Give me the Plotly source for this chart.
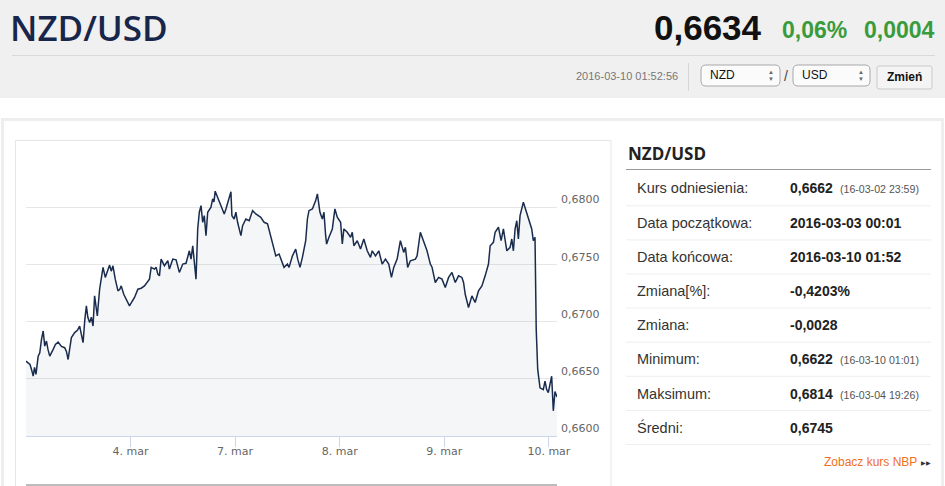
import plotly.graph_objects as go
import pandas as pd

W, H = 945, 486

# ---------------- data ----------------
TRADING_DAYS = ["2016-03-03", "2016-03-04", "2016-03-07", "2016-03-08", "2016-03-09", "2016-03-10"]
# trading hours elapsed since 2016-03-03 00:00 (weekend removed)
HOURS = [
    0.02, 0.94, 1.28, 1.67, 1.97, 2.31, 2.81, 3.18, 3.57, 3.96,
    4.32, 4.71, 5.06, 5.47, 6.25, 6.77, 7.39, 8.15, 8.90, 9.29,
    9.68, 10.09, 10.43, 11.19, 11.81, 12.33, 12.72, 13.11, 13.52, 13.87,
    14.21, 14.62, 15.01, 15.40, 15.76, 16.15, 16.38, 16.91, 17.30, 17.69,
    18.21, 18.67, 19.20, 19.58, 19.97, 20.50, 21.12, 21.53, 21.87, 22.44,
    23.02, 23.77, 24.39, 24.92, 25.69, 26.45, 27.20, 27.82, 28.35, 28.74,
    29.49, 29.88, 30.27, 30.64, 31.02, 31.78, 32.56, 32.92, 33.70, 34.46,
    34.84, 35.21, 35.99, 36.74, 37.50, 37.89, 38.28, 38.64, 39.03, 39.42,
    39.79, 40.18, 40.57, 40.93, 41.32, 41.71, 42.46, 42.85, 43.15, 43.43,
    44.36, 45.14, 45.51, 45.90, 46.65, 47.04, 47.27, 47.79, 48.18, 48.57,
    49.33, 49.72, 50.47, 51.23, 52.01, 52.76, 53.90, 54.66, 55.44, 56.19,
    56.95, 57.34, 58.09, 58.87, 59.23, 60.01, 60.38, 61.16, 61.91, 62.37,
    62.90, 63.44, 64.20, 64.59, 64.95, 65.73, 66.49, 66.88, 67.47, 68.02,
    68.39, 68.78, 69.00, 69.53, 70.31, 70.90, 71.45, 72.21, 72.60, 72.96,
    73.74, 74.50, 74.89, 75.25, 76.03, 76.78, 77.54, 78.32, 79.07, 79.46,
    80.22, 80.97, 81.36, 81.75, 82.50, 83.26, 83.88, 84.40, 85.18, 85.93,
    86.69, 87.08, 87.60, 88.22, 89.37, 89.76, 90.51, 91.27, 92.04, 92.80,
    93.19, 93.94, 94.70, 95.48, 96.23, 96.99, 97.76, 98.52, 99.27, 100.05,
    100.42, 100.81, 101.56, 102.34, 103.09, 103.85, 104.63, 105.38, 106.14, 106.53,
    107.28, 107.67, 108.43, 109.04, 109.57, 110.35, 111.10, 111.49, 111.86, 112.25,
    112.64, 113.00, 113.39, 114.15, 114.92, 115.68, 116.07, 116.43, 116.82, 117.10,
    117.44, 117.97, 118.72, 119.11, 119.50, 119.87, 120.25, 120.64, 121.02, 121.40,
    121.87,
]
RATES = [
    0.66654, 0.66625, 0.66582, 0.66523, 0.66599, 0.66538, 0.66698, 0.66728, 0.66845, 0.66918,
    0.66786, 0.66830, 0.66757, 0.66698, 0.66757, 0.66801, 0.66821, 0.66783, 0.66772, 0.66739,
    0.66669, 0.66801, 0.66860, 0.66904, 0.66924, 0.66961, 0.66880, 0.66816, 0.67020, 0.67137,
    0.67038, 0.66991, 0.67038, 0.66961, 0.67225, 0.67108, 0.67049, 0.67283, 0.67371, 0.67474,
    0.67386, 0.67441, 0.67494, 0.67441, 0.67488, 0.67371, 0.67268, 0.67283, 0.67312, 0.67239,
    0.67196, 0.67137, 0.67178, 0.67211, 0.67283, 0.67292, 0.67312, 0.67345, 0.67371, 0.67474,
    0.67459, 0.67474, 0.67415, 0.67400, 0.67546, 0.67488, 0.67532, 0.67459, 0.67546, 0.67540,
    0.67488, 0.67430, 0.67503, 0.67510, 0.67619, 0.67546, 0.67663, 0.67518, 0.67371, 0.67810,
    0.67956, 0.68014, 0.67868, 0.67926, 0.67751, 0.67956, 0.68000, 0.68073, 0.68046, 0.68140,
    0.68044, 0.67970, 0.67941, 0.67985, 0.68088, 0.68135, 0.67926, 0.67897, 0.67956, 0.67868,
    0.67751, 0.67839, 0.67897, 0.67882, 0.67970, 0.67941, 0.67912, 0.67868, 0.67854, 0.67737,
    0.67634, 0.67575, 0.67590, 0.67518, 0.67474, 0.67503, 0.67474, 0.67575, 0.67634, 0.67546,
    0.67474, 0.67561, 0.67707, 0.67897, 0.67970, 0.67985, 0.68058, 0.68117, 0.67956, 0.67897,
    0.67956, 0.67751, 0.67678, 0.67737, 0.67810, 0.67985, 0.67912, 0.67868, 0.67678, 0.67810,
    0.67781, 0.67737, 0.67781, 0.67663, 0.67707, 0.67634, 0.67722, 0.67619, 0.67561, 0.67619,
    0.67575, 0.67619, 0.67561, 0.67503, 0.67546, 0.67503, 0.67386, 0.67474, 0.67546, 0.67707,
    0.67605, 0.67649, 0.67474, 0.67532, 0.67546, 0.67575, 0.67781, 0.67707, 0.67619, 0.67503,
    0.67476, 0.67342, 0.67386, 0.67371, 0.67298, 0.67386, 0.67430, 0.67342, 0.67400, 0.67386,
    0.67342, 0.67239, 0.67123, 0.67225, 0.67167, 0.67268, 0.67312, 0.67400, 0.67503, 0.67663,
    0.67693, 0.67781, 0.67825, 0.67707, 0.67810, 0.67619, 0.67649, 0.67722, 0.67619, 0.67810,
    0.67882, 0.67722, 0.67926, 0.68044, 0.67941, 0.67839, 0.67810, 0.67707, 0.67737, 0.66932,
    0.66582, 0.66421, 0.66406, 0.66479, 0.66406, 0.66380, 0.66465, 0.66523, 0.66220, 0.66389,
    0.66340,
]

X_TICKS = ["2016-03-04", "2016-03-07", "2016-03-08", "2016-03-09", "2016-03-10"]
X_TICK_TEXT = ["4. mar", "7. mar", "8. mar", "9. mar", "10. mar"]
Y_TICKS = [0.660, 0.665, 0.670, 0.675, 0.680, 0.685]
Y_TICK_TEXT = ["0,6600", "0,6650", "0,6700", "0,6750", "0,6800", ""]

PAIR = "NZD/USD"
LAST_RATE = "0,6634"
CHANGE_PCT = "0,06%"
CHANGE_ABS = "0,0004"
TIMESTAMP = "2016-03-10 01:52:56"
BASE_CCY = "NZD"
QUOTE_CCY = "USD"

TABLE_LABELS = ["Kurs odniesienia:", "Data początkowa:", "Data końcowa:", "Zmiana[%]:",
                "Zmiana:", "Minimum:", "Maksimum:", "Średni:"]
TABLE_VALUES = ["0,6662", "2016-03-03 00:01", "2016-03-10 01:52", "-0,4203%",
                "-0,0028", "0,6622", "0,6814", "0,6745"]
TABLE_NOTES = ["(16-03-02 23:59)", "", "", "", "", "(16-03-10 01:01)", "(16-03-04 19:26)", ""]

# ---------------- helpers ----------------
def px(x):
    return x / W


def py(y):
    return 1 - y / H


times = [pd.Timestamp(TRADING_DAYS[int(h // 24)]) + pd.Timedelta(hours=h % 24) for h in HOURS]

fig = go.Figure()
fig.add_trace(go.Scatter(
    x=times, y=RATES, mode="lines",
    line=dict(color="#1a2c4e", width=1.5),
    fill="tozeroy", fillcolor="rgba(30,50,90,0.045)",
    hoverinfo="skip", showlegend=False,
))

shapes = []
annotations = []


def rect(x0, y0, x1, y1, fill=None, line=None, lw=0, layer="below"):
    shapes.append(dict(type="rect", xref="paper", yref="paper",
                       x0=px(x0), x1=px(x1), y0=py(y1), y1=py(y0),
                       fillcolor=fill if fill else "rgba(0,0,0,0)",
                       line=dict(color=line if line else "rgba(0,0,0,0)", width=lw),
                       layer=layer))


def hline(x0, x1, y, color, lw=1, layer="below"):
    shapes.append(dict(type="line", xref="paper", yref="paper",
                       x0=px(x0), x1=px(x1), y0=py(y), y1=py(y),
                       line=dict(color=color, width=lw), layer=layer))


def vline(x, y0, y1, color, lw=1, layer="below"):
    shapes.append(dict(type="line", xref="paper", yref="paper",
                       x0=px(x), x1=px(x), y0=py(y0), y1=py(y1),
                       line=dict(color=color, width=lw), layer=layer))


def rrect(x0, y0, x1, y1, r, fill, line, lw=1):
    pts = [
        f"M {px(x0 + r)} {py(y0)}", f"L {px(x1 - r)} {py(y0)}",
        f"Q {px(x1)} {py(y0)} {px(x1)} {py(y0 + r)}", f"L {px(x1)} {py(y1 - r)}",
        f"Q {px(x1)} {py(y1)} {px(x1 - r)} {py(y1)}", f"L {px(x0 + r)} {py(y1)}",
        f"Q {px(x0)} {py(y1)} {px(x0)} {py(y1 - r)}", f"L {px(x0)} {py(y0 + r)}",
        f"Q {px(x0)} {py(y0)} {px(x0 + r)} {py(y0)}", "Z",
    ]
    shapes.append(dict(type="path", xref="paper", yref="paper", path=" ".join(pts),
                       fillcolor=fill, line=dict(color=line, width=lw), layer="below"))


def text(x, y, s, size, color, family="Liberation Sans", xanchor="left", weight=None):
    font = dict(family=family, size=size, color=color)
    if weight:
        font["weight"] = weight
    annotations.append(dict(xref="paper", yref="paper", x=px(x), y=py(y), text=s,
                            showarrow=False, xanchor=xanchor, yanchor="middle",
                            font=font, borderpad=0))


# header band
rect(0, 0, W, 98, fill="#f0f0f0")
hline(12, 935, 55.5, "#d9d9d9", 1)
text(9, 28, PAIR, 35, "#17264a", family="Open Sans", weight=600)
text(763, 28, f"<b>{LAST_RATE}</b>", 35, "#111111", xanchor="right")
text(848, 30, f"<b>{CHANGE_PCT}</b>", 23, "#3a9b3d", xanchor="right")
text(936, 30, f"<b>{CHANGE_ABS}</b>", 23, "#3a9b3d", xanchor="right")
text(679, 76, TIMESTAMP, 11, "#777777", xanchor="right")
vline(688.5, 63, 91, "#d6d6d6", 1)
for (bx0, bx1, label) in [(701, 780, BASE_CCY), (793, 870, QUOTE_CCY)]:
    rrect(bx0, 65, bx1, 86, 5, "#fbfbfb", "#a8a8a8", 1)
    text(bx0 + 8, 75, label, 12, "#111111")
    text(bx1 - 9, 72.2, "▲", 6, "#666666", xanchor="center")
    text(bx1 - 9, 78.8, "▼", 6, "#666666", xanchor="center")
text(786, 76, "/", 14, "#444444", xanchor="center")
rrect(877, 66, 932, 89, 2, "#f4f4f4", "#c9c9c9", 1)
text(904.5, 77.5, "<b>Zmień</b>", 12, "#111111", xanchor="center")

# content boxes
rect(2.5, 119.5, 942.5, 520, line="#eeeeee", lw=3)
rect(15.5, 140.5, 611, 520, line="#e6e6e6", lw=1)
hline(26, 557, 485, "#bcbcbc", 2)

# right info panel
text(627, 153.5, f"<b>{PAIR}</b>", 17, "#222222", family="Open Sans")
hline(626, 931, 169.5, "#9a9a9a", 1)
for i, (lab, val, note) in enumerate(zip(TABLE_LABELS, TABLE_VALUES, TABLE_NOTES)):
    yc = 188.3 + i * 34.2
    text(636, yc, lab, 14.5, "#333333")
    text(789, yc, f"<b>{val}</b>", 14, "#222222")
    if note:
        text(839, yc + 1, note, 10.6, "#555555")
    hline(626, 931, 205.8 + i * 34.1, "#eeeeee", 1)
text(918, 462, "Zobacz kurs NBP", 12, "#f07023", xanchor="right")
text(926, 462.5, "▶▶", 6, "#333333", xanchor="center")

fig.update_layout(
    width=W, height=H, autosize=False,
    margin=dict(l=0, r=0, t=0, b=0, pad=0),
    paper_bgcolor="#ffffff", plot_bgcolor="rgba(0,0,0,0)",
    showlegend=False, hovermode=False,
    shapes=shapes, annotations=annotations,
    xaxis=dict(
        type="date", domain=[px(26), px(557)], anchor="y", automargin=False,
        range=["2016-03-03 00:01", "2016-03-10 01:52"],
        rangebreaks=[dict(bounds=["sat", "mon"])],
        tickmode="array", tickvals=X_TICKS, ticktext=X_TICK_TEXT,
        ticks="outside", ticklen=10, tickwidth=1, tickcolor="#ccd6eb",
        ticklabelstandoff=-5,
        showline=True, linecolor="#ccd6eb", linewidth=1,
        showgrid=False, zeroline=False,
        tickfont=dict(family="DejaVu Sans", size=11, color="#666666"),
        fixedrange=True,
    ),
    yaxis=dict(
        domain=[py(436), py(150)], anchor="x", side="right", automargin=False,
        range=[0.660, 0.685],
        tickmode="array", tickvals=Y_TICKS, ticktext=Y_TICK_TEXT,
        ticks="", showline=False, zeroline=False,
        showgrid=True, gridcolor="#e6e6e6", gridwidth=1,
        ticklabelposition="outside top", ticklabelstandoff=3,
        tickfont=dict(family="DejaVu Sans", size=11, color="#666666"),
        fixedrange=True,
    ),
)

fig.write_html(
    "out.html",
    config={"displayModeBar": False, "responsive": False},
    post_script="document.body.style.margin='0';document.body.style.padding='0';"
                "document.body.style.overflow='hidden';",
)
